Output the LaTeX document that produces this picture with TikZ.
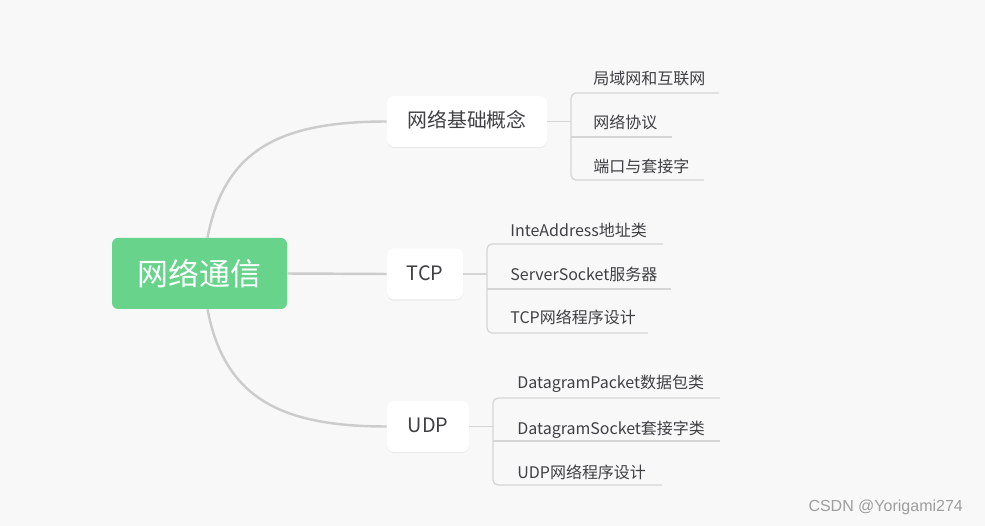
\documentclass[tikz,border=0pt]{standalone}
\usepackage{fontspec}
\setmainfont{Noto Sans CJK SC}
\newfontfamily\markfont{Liberation Sans}
\usepackage{tikz}
\usetikzlibrary{shadows}
\definecolor{bgpaper}{RGB}{248,248,248}
\definecolor{rootgreen}{RGB}{104,211,139}
\definecolor{inkgray}{RGB}{64,64,68}
\definecolor{trunkgray}{RGB}{204,204,204}
\definecolor{twiggray}{RGB}{214,214,214}

\begin{document}
\begin{tikzpicture}[
  rootbox/.style={fill=rootgreen, rounded corners=0.12cm, text=white, font=\fontsize{17.6}{20}\selectfont, minimum width=3.5cm, minimum height=1.42cm, inner sep=0},
  topicbox/.style={fill=white, rounded corners=0.14cm, text=inkgray, font=\fontsize{11.3}{13}\selectfont, minimum height=1.02cm, inner sep=0, text height=0.8em, text depth=0.1em, drop shadow={shadow xshift=0pt, shadow yshift=-0.6pt, opacity=0.12}},
  leaf/.style={anchor=base west, inner sep=0, text=inkgray, font=\fontsize{9.1}{11}\selectfont},
  trunk/.style={draw=trunkgray, line width=1.4pt},
  twig/.style={draw=twiggray, line width=0.75pt},
]
\fill[bgpaper] (0,0) rectangle (19.7,-10.52);
\useasboundingbox (0,0) rectangle (19.7,-10.52);
\node[rootbox] (root) at (3.99,-5.47) {网络通信};
\node[topicbox, minimum width=3.2cm] (basic) at (9.34,-2.43) {网络基础概念};
\node[topicbox, minimum width=1.52cm] (tcp) at (8.5,-5.48) {TCP};
\node[topicbox, minimum width=1.64cm] (udp) at (8.56,-8.53) {UDP};
\draw[trunk] ([xshift=0.16cm]root.north) .. controls +(0.34,1.76) and +(-2.14,0) .. (basic.west);
\draw[trunk] (root.east) -- (tcp.west);
\draw[trunk] ([xshift=0.16cm]root.south) .. controls +(0.34,-1.76) and +(-2.14,0) .. (udp.west);
\coordinate (j1) at (11.42,-2.43);
\draw[twig] (basic.east) -- (j1);
\draw[twig, rounded corners=0.1cm] (14.38,-1.86) -- (11.42,-1.86) -- (11.42,-3.60) -- (14.08,-3.60);
\draw[twig] (11.42,-2.74) -- (13.44,-2.74);
\node[leaf] (l11) at (11.86,-1.70) {局域网和互联网};
\node[leaf] (l12) at (11.86,-2.58) {网络协议};
\node[leaf] (l13) at (11.86,-3.46) {端口与套接字};
\coordinate (j2) at (9.74,-5.48);
\draw[twig] (tcp.east) -- (j2);
\draw[twig, rounded corners=0.1cm] (13.26,-4.88) -- (9.74,-4.88) -- (9.74,-6.66) -- (12.96,-6.66);
\draw[twig] (9.74,-5.78) -- (13.42,-5.78);
\node[leaf] (l21) at (10.2,-4.74) {InteAddress地址类};
\node[leaf] (l22) at (10.2,-5.62) {ServerSocket服务器};
\node[leaf] (l23) at (10.2,-6.48) {TCP网络程序设计};
\coordinate (j3) at (9.86,-8.53);
\draw[twig] (udp.east) -- (j3);
\draw[twig, rounded corners=0.1cm] (14.4,-7.96) -- (9.86,-7.96) -- (9.86,-9.70) -- (13.24,-9.70);
\draw[twig] (9.86,-8.82) -- (14.4,-8.82);
\node[leaf] (l31) at (10.34,-7.78) {DatagramPacket数据包类};
\node[leaf] (l32) at (10.34,-8.68) {DatagramSocket套接字类};
\node[leaf] (l33) at (10.34,-9.56) {UDP网络程序设计};
\node[anchor=east, text=black!38, font=\markfont\fontsize{9.1}{11}\selectfont] (mark) at (19.38,-10.14) {CSDN @Yorigami274};
\end{tikzpicture}
\end{document}
